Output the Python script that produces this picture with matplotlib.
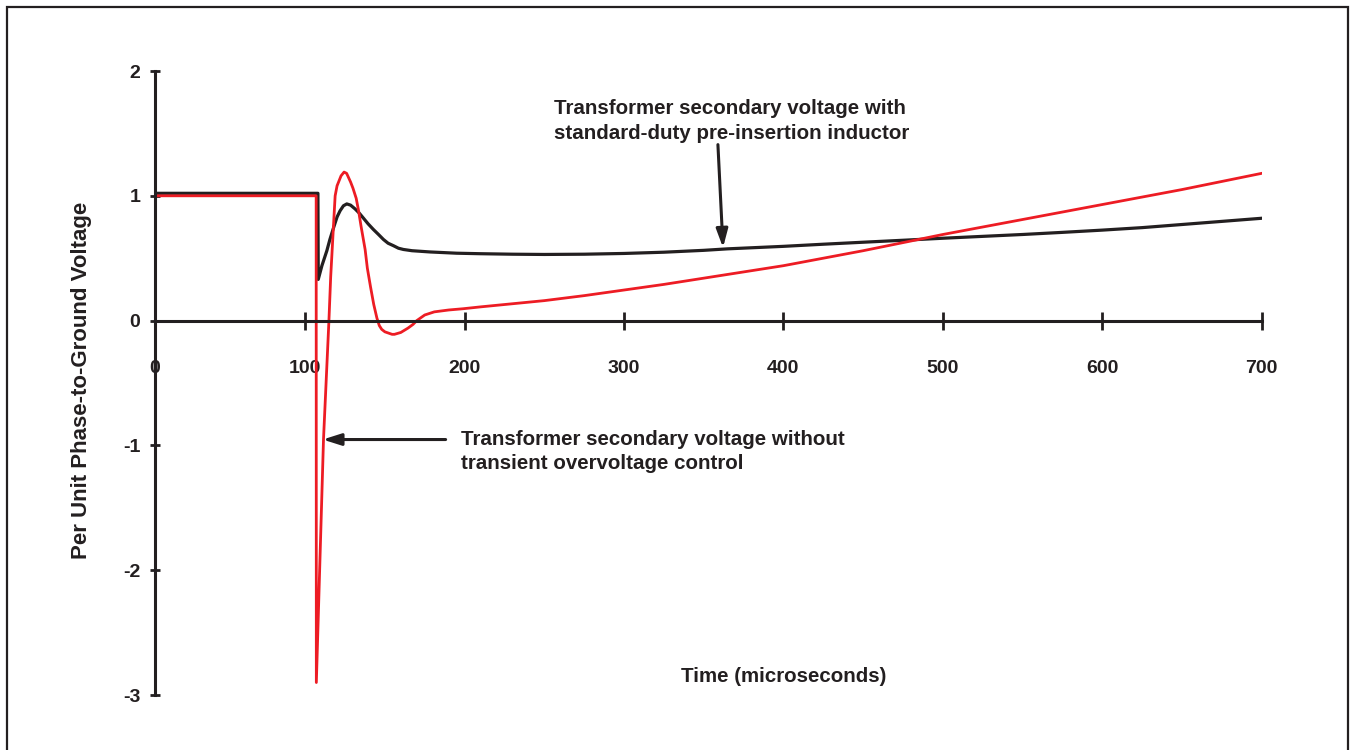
"""
Transformer secondary voltage, with and without pre-insertion inductor
"""

import matplotlib.pyplot as plt
from matplotlib.patches import Rectangle

plt.rcParams['font.family'] = ['Liberation Sans', 'DejaVu Sans']
plt.rcParams['font.weight'] = 'bold'

# time in microseconds, per unit voltage
t_red = [0, 106.9, 107.0, 111.5, 114.9, 116, 117.5, 118.8, 120, 122.5, 124.4, 126,
         128.5, 130, 132, 133.5, 135, 137.6, 139, 141, 143, 145, 146.5, 148, 150,
         154.5, 156, 160, 164.5, 167.7, 170, 175, 181, 190, 199, 210, 230, 250,
         275, 300, 325, 350, 375, 400, 425, 450, 477, 500, 525, 550, 575, 600,
         625, 650, 675, 700]
v_red = [1.0, 1.0, -2.9, -0.95, 0.0, 0.35, 0.7, 1.0, 1.08, 1.16, 1.19, 1.18,
         1.11, 1.06, 0.98, 0.88, 0.76, 0.57, 0.42, 0.27, 0.13, 0.02, -0.04, -0.07, -0.09,
         -0.11, -0.11, -0.095, -0.06, -0.03, 0.0, 0.045, 0.07, 0.085, 0.095, 0.11, 0.135, 0.16,
         0.2, 0.245, 0.29, 0.34, 0.39, 0.44, 0.5, 0.56, 0.63, 0.69, 0.75, 0.81, 0.87, 0.93,
         0.99, 1.05, 1.115, 1.18]

t_blk = [0, 108.0, 108.2, 110.5, 113.6, 115.5, 117.7, 120, 121.9, 124, 126.1, 128.5,
         131.3, 134, 136.6, 139.5, 142.8, 146, 149.1, 152, 155.4, 158.5, 161.6, 167,
         178.4, 195, 209.7, 230, 250, 275, 300, 325, 350, 365, 400, 425, 450, 477,
         500, 525, 550, 575, 600, 625, 650, 675, 700]
v_blk = [1.02, 1.02, 0.33, 0.44, 0.56, 0.65, 0.74, 0.83, 0.88, 0.92, 0.935, 0.925,
         0.895, 0.86, 0.82, 0.775, 0.73, 0.69, 0.65, 0.62, 0.60, 0.58, 0.57, 0.56,
         0.55, 0.54, 0.536, 0.532, 0.53, 0.532, 0.538, 0.548, 0.563, 0.575, 0.595, 0.612, 0.628, 0.645,
         0.66, 0.675, 0.69, 0.707, 0.725, 0.745, 0.77, 0.795, 0.82]

x_ticks = [100, 200, 300, 400, 500, 600, 700]
y_ticks = [-3, -2, -1, 0, 1, 2]

RED = "#ED1C24"
BLK = "#231F20"
x_left = 5.8  # the vertical axis sits a little right of t=0 in the original

fig = plt.figure(figsize=(13.53, 7.5), dpi=100)
ax = fig.add_axes([155/1353, 1-695/750, (1261.7-155)/1353, (695-71)/750])

ax.plot(t_blk, v_blk, color=BLK, linewidth=2.3)
ax.plot(t_red, v_red, color=RED, linewidth=2.0)

ax.set_xlim(x_left, 700)
ax.set_ylim(-3, 2)
ax.spines['bottom'].set_position(('data', 0))
ax.spines['top'].set_visible(False)
ax.spines['right'].set_visible(False)
for s in ['left', 'bottom']:
    ax.spines[s].set_linewidth(2.2)
    ax.spines[s].set_color(BLK)

ax.set_xticks([x_left] + x_ticks)
ax.set_xticklabels(['0'] + [str(v) for v in x_ticks])
ax.set_yticks(y_ticks)
ax.set_yticklabels([str(v) for v in y_ticks])
ax.tick_params(axis='x', direction='inout', length=13, width=2, color=BLK,
               labelsize=14, pad=22, labelcolor=BLK)
ax.tick_params(axis='y', direction='inout', length=7, width=2, color=BLK,
               labelsize=14, pad=7, labelcolor=BLK)

ax.set_ylabel("Per Unit Phase-to-Ground Voltage", fontsize=16, fontweight='bold',
              color=BLK)
ax.yaxis.set_label_coords(-0.057, 0.505)
ax.text(400, -2.85, "Time (microseconds)", fontsize=14.8, ha='center', va='center',
        color=BLK)

# annotations
ax.text(255.8, 1.775, "Transformer secondary voltage with\nstandard-duty pre-insertion inductor",
        fontsize=14.8, ha='left', va='top', color=BLK, linespacing=1.38)
ax.annotate("", xy=(362.1, 0.585), xytext=(358.9, 1.41),
            arrowprops=dict(arrowstyle='-|>,head_length=1.1,head_width=0.35',
                            color=BLK, linewidth=2.2, shrinkA=0, shrinkB=0))

ax.text(198, -0.875, "Transformer secondary voltage without\ntransient overvoltage control",
        fontsize=14.8, ha='left', va='top', color=BLK, linespacing=1.38)
ax.annotate("", xy=(111.0, -0.953), xytext=(188.1, -0.953),
            arrowprops=dict(arrowstyle='-|>,head_length=1.1,head_width=0.35',
                            color=BLK, linewidth=2.2, shrinkA=0, shrinkB=0))

# outer frame (open at the bottom)
fig.patches.append(Rectangle((7/1353, -0.05), (1348-7)/1353, 1.05-7/750,
                             transform=fig.transFigure, fill=False,
                             edgecolor=BLK, linewidth=1.6))

fig.savefig("out.png", dpi=100)
